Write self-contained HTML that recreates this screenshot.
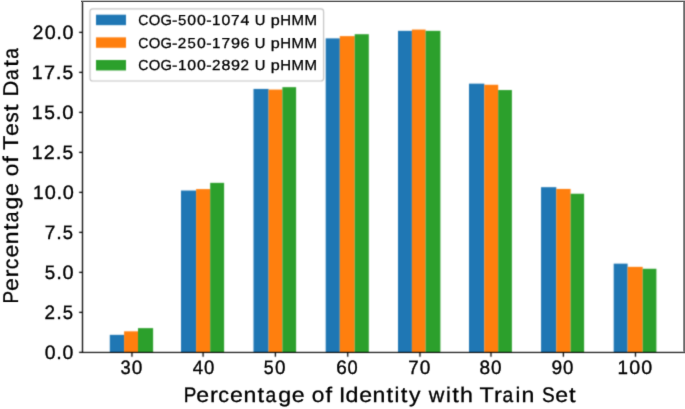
<!DOCTYPE html>
<html><head><meta charset="utf-8"><style>
html,body{margin:0;padding:0;background:#fff;}
body{width:685px;height:409px;overflow:hidden;}
svg{display:block;}
text{font-family:"Liberation Sans",sans-serif;fill:#000;text-rendering:geometricPrecision;stroke:#000;}
</style></head><body>
<svg width="685" height="409" viewBox="0 0 685 409">
<defs><filter id="b" x="0" y="0" width="685" height="409" filterUnits="userSpaceOnUse" color-interpolation-filters="sRGB"><feConvolveMatrix order="3" kernelMatrix="0.0324 0.1152 0.0324 0.1152 0.4096 0.1152 0.0324 0.1152 0.0324" edgeMode="duplicate" preserveAlpha="true"/></filter><filter id="bt" x="0" y="0" width="685" height="409" filterUnits="userSpaceOnUse" color-interpolation-filters="sRGB"><feConvolveMatrix order="3" kernelMatrix="0.0100 0.0800 0.0100 0.0800 0.6400 0.0800 0.0100 0.0800 0.0100" edgeMode="none" preserveAlpha="false"/></filter></defs>
<g filter="url(#b)">
<rect width="685" height="409" fill="#fff"/>
<rect x="109.80" y="334.85" width="14.30" height="17.60" fill="#1f77b4"/>
<rect x="124.10" y="331.33" width="13.90" height="21.12" fill="#ff7f0e"/>
<rect x="138.00" y="328.13" width="15.10" height="24.32" fill="#2ca02c"/>
<rect x="181.00" y="190.53" width="15.10" height="161.92" fill="#1f77b4"/>
<rect x="196.10" y="189.09" width="14.10" height="163.36" fill="#ff7f0e"/>
<rect x="210.20" y="182.85" width="13.90" height="169.60" fill="#2ca02c"/>
<rect x="253.50" y="88.93" width="15.10" height="263.52" fill="#1f77b4"/>
<rect x="268.60" y="89.57" width="13.80" height="262.88" fill="#ff7f0e"/>
<rect x="282.40" y="87.17" width="13.70" height="265.28" fill="#2ca02c"/>
<rect x="325.70" y="38.37" width="14.10" height="314.08" fill="#1f77b4"/>
<rect x="339.80" y="36.13" width="14.90" height="316.32" fill="#ff7f0e"/>
<rect x="354.70" y="34.21" width="14.10" height="318.24" fill="#2ca02c"/>
<rect x="398.00" y="30.85" width="13.90" height="321.60" fill="#1f77b4"/>
<rect x="411.90" y="29.57" width="13.70" height="322.88" fill="#ff7f0e"/>
<rect x="425.60" y="30.85" width="14.80" height="321.60" fill="#2ca02c"/>
<rect x="469.00" y="83.65" width="15.30" height="268.80" fill="#1f77b4"/>
<rect x="484.30" y="84.77" width="13.90" height="267.68" fill="#ff7f0e"/>
<rect x="498.20" y="90.05" width="13.70" height="262.40" fill="#2ca02c"/>
<rect x="541.05" y="187.17" width="15.25" height="165.28" fill="#1f77b4"/>
<rect x="556.30" y="188.93" width="14.30" height="163.52" fill="#ff7f0e"/>
<rect x="570.60" y="193.73" width="13.50" height="158.72" fill="#2ca02c"/>
<rect x="613.70" y="263.65" width="13.90" height="88.80" fill="#1f77b4"/>
<rect x="627.60" y="266.85" width="15.10" height="85.60" fill="#ff7f0e"/>
<rect x="642.70" y="268.77" width="13.70" height="83.68" fill="#2ca02c"/>
<path d="M82.50 0.00V352.45" stroke="#000" stroke-width="1.25" fill="none"/>
<rect x="81.88" y="352" width="603.12" height="1" fill="#000"/>
<rect x="81.88" y="351" width="603.12" height="1" fill="#000" fill-opacity="0.11"/>
<path d="M79.10 352.45H82.50M79.10 312.45H82.50M79.10 272.45H82.50M79.10 232.45H82.50M79.10 192.45H82.50M79.10 152.45H82.50M79.10 112.45H82.50M79.10 72.45H82.50M79.10 32.45H82.50M131.95 352.45V356.85M203.10 352.45V356.85M275.40 352.45V356.85M347.72 352.45V356.85M419.97 352.45V356.85M490.99 352.45V356.85M563.40 352.45V356.85M635.48 352.45V356.85" stroke="#000" stroke-width="1.25" fill="none"/>
<rect x="90.0" y="8.85" width="233.60" height="72.15" rx="2.8" fill="#fff" fill-opacity="0.8" stroke="#c4c4c4" stroke-width="1.2"/>
<rect x="96.0" y="14.70" width="30.0" height="10.45" fill="#1f77b4"/>
<rect x="96.0" y="37.35" width="30.0" height="10.45" fill="#ff7f0e"/>
<rect x="96.0" y="60.00" width="30.0" height="10.45" fill="#2ca02c"/>
</g>
<g filter="url(#bt)">
<text y="359.00" font-size="19.40" stroke-width="0.35"><tspan x="44.79" textLength="10.84" lengthAdjust="spacingAndGlyphs">0</tspan><tspan x="56.24" textLength="5.56" lengthAdjust="spacingAndGlyphs">.</tspan><tspan x="62.42" textLength="10.84" lengthAdjust="spacingAndGlyphs">0</tspan></text>
<text y="319.00" font-size="19.40" stroke-width="0.35"><tspan x="44.60" textLength="10.51" lengthAdjust="spacingAndGlyphs">2</tspan><tspan x="56.18" textLength="5.59" lengthAdjust="spacingAndGlyphs">.</tspan><tspan x="62.63" textLength="10.29" lengthAdjust="spacingAndGlyphs">5</tspan></text>
<text y="279.40" font-size="19.40" stroke-width="0.35"><tspan x="44.80" textLength="10.44" lengthAdjust="spacingAndGlyphs">5</tspan><tspan x="56.25" textLength="5.67" lengthAdjust="spacingAndGlyphs">.</tspan><tspan x="62.56" textLength="11.06" lengthAdjust="spacingAndGlyphs">0</tspan></text>
<text y="239.00" font-size="19.40" stroke-width="0.35"><tspan x="44.87" textLength="10.61" lengthAdjust="spacingAndGlyphs">7</tspan><tspan x="56.26" textLength="5.56" lengthAdjust="spacingAndGlyphs">.</tspan><tspan x="62.68" textLength="10.24" lengthAdjust="spacingAndGlyphs">5</tspan></text>
<text y="199.40" font-size="19.40" stroke-width="0.35"><tspan x="32.90" textLength="10.60" lengthAdjust="spacingAndGlyphs">1</tspan><tspan x="44.78" textLength="11.09" lengthAdjust="spacingAndGlyphs">0</tspan><tspan x="56.51" textLength="5.69" lengthAdjust="spacingAndGlyphs">.</tspan><tspan x="62.83" textLength="11.09" lengthAdjust="spacingAndGlyphs">0</tspan></text>
<text y="159.00" font-size="19.40" stroke-width="0.35"><tspan x="31.77" textLength="10.83" lengthAdjust="spacingAndGlyphs">1</tspan><tspan x="43.86" textLength="10.93" lengthAdjust="spacingAndGlyphs">2</tspan><tspan x="55.89" textLength="5.81" lengthAdjust="spacingAndGlyphs">.</tspan><tspan x="62.61" textLength="10.70" lengthAdjust="spacingAndGlyphs">5</tspan></text>
<text y="119.00" font-size="19.40" stroke-width="0.35"><tspan x="31.77" textLength="10.81" lengthAdjust="spacingAndGlyphs">1</tspan><tspan x="44.14" textLength="10.69" lengthAdjust="spacingAndGlyphs">5</tspan><tspan x="55.86" textLength="5.81" lengthAdjust="spacingAndGlyphs">.</tspan><tspan x="62.32" textLength="11.32" lengthAdjust="spacingAndGlyphs">0</tspan></text>
<text y="79.00" font-size="19.40" stroke-width="0.35"><tspan x="31.77" textLength="10.83" lengthAdjust="spacingAndGlyphs">1</tspan><tspan x="43.99" textLength="11.09" lengthAdjust="spacingAndGlyphs">7</tspan><tspan x="55.89" textLength="5.81" lengthAdjust="spacingAndGlyphs">.</tspan><tspan x="62.61" textLength="10.70" lengthAdjust="spacingAndGlyphs">5</tspan></text>
<text y="39.00" font-size="19.40" stroke-width="0.35"><tspan x="32.69" textLength="10.61" lengthAdjust="spacingAndGlyphs">2</tspan><tspan x="44.69" textLength="11.01" lengthAdjust="spacingAndGlyphs">0</tspan><tspan x="56.33" textLength="5.65" lengthAdjust="spacingAndGlyphs">.</tspan><tspan x="62.61" textLength="11.01" lengthAdjust="spacingAndGlyphs">0</tspan></text>
<text y="374.00" font-size="19.40" stroke-width="0.35"><tspan x="120.55" textLength="10.17" lengthAdjust="spacingAndGlyphs">3</tspan><tspan x="131.81" textLength="10.58" lengthAdjust="spacingAndGlyphs">0</tspan></text>
<text y="374.00" font-size="19.40" stroke-width="0.35"><tspan x="192.82" textLength="10.34" lengthAdjust="spacingAndGlyphs">4</tspan><tspan x="204.04" textLength="10.33" lengthAdjust="spacingAndGlyphs">0</tspan></text>
<text y="374.00" font-size="19.40" stroke-width="0.35"><tspan x="263.84" textLength="9.90" lengthAdjust="spacingAndGlyphs">5</tspan><tspan x="275.00" textLength="10.49" lengthAdjust="spacingAndGlyphs">0</tspan></text>
<text y="374.00" font-size="19.40" stroke-width="0.35"><tspan x="336.19" textLength="10.52" lengthAdjust="spacingAndGlyphs">6</tspan><tspan x="347.40" textLength="10.16" lengthAdjust="spacingAndGlyphs">0</tspan></text>
<text y="374.00" font-size="19.40" stroke-width="0.35"><tspan x="408.29" textLength="10.41" lengthAdjust="spacingAndGlyphs">7</tspan><tspan x="419.76" textLength="10.64" lengthAdjust="spacingAndGlyphs">0</tspan></text>
<text y="374.00" font-size="19.40" stroke-width="0.35"><tspan x="479.42" textLength="10.62" lengthAdjust="spacingAndGlyphs">8</tspan><tspan x="490.88" textLength="10.51" lengthAdjust="spacingAndGlyphs">0</tspan></text>
<text y="374.00" font-size="19.40" stroke-width="0.35"><tspan x="551.55" textLength="10.70" lengthAdjust="spacingAndGlyphs">9</tspan><tspan x="563.02" textLength="10.36" lengthAdjust="spacingAndGlyphs">0</tspan></text>
<text y="374.00" font-size="19.40" stroke-width="0.35"><tspan x="617.52" textLength="10.47" lengthAdjust="spacingAndGlyphs">1</tspan><tspan x="629.26" textLength="10.96" lengthAdjust="spacingAndGlyphs">0</tspan><tspan x="641.16" textLength="10.96" lengthAdjust="spacingAndGlyphs">0</tspan></text>
<text y="401.60" font-size="21.20" stroke-width="0.3"><tspan x="183.75" textLength="12.62" lengthAdjust="spacingAndGlyphs">P</tspan><tspan x="196.30" textLength="12.86" lengthAdjust="spacingAndGlyphs">e</tspan><tspan x="210.10" textLength="7.91" lengthAdjust="spacingAndGlyphs">r</tspan><tspan x="218.34" textLength="10.74" lengthAdjust="spacingAndGlyphs">c</tspan><tspan x="230.03" textLength="12.86" lengthAdjust="spacingAndGlyphs">e</tspan><tspan x="243.41" textLength="12.83" lengthAdjust="spacingAndGlyphs">n</tspan><tspan x="257.40" textLength="6.60" lengthAdjust="spacingAndGlyphs">t</tspan><tspan x="265.42" textLength="10.70" lengthAdjust="spacingAndGlyphs">a</tspan><tspan x="278.27" textLength="12.94" lengthAdjust="spacingAndGlyphs">g</tspan><tspan x="291.85" textLength="12.86" lengthAdjust="spacingAndGlyphs">e</tspan> <tspan x="311.85" textLength="12.65" lengthAdjust="spacingAndGlyphs">o</tspan><tspan x="325.45" textLength="6.60" lengthAdjust="spacingAndGlyphs">f</tspan> <tspan x="339.06" textLength="6.29" lengthAdjust="spacingAndGlyphs">I</tspan><tspan x="345.57" textLength="12.94" lengthAdjust="spacingAndGlyphs">d</tspan><tspan x="359.15" textLength="12.86" lengthAdjust="spacingAndGlyphs">e</tspan><tspan x="372.52" textLength="12.83" lengthAdjust="spacingAndGlyphs">n</tspan><tspan x="386.51" textLength="6.60" lengthAdjust="spacingAndGlyphs">t</tspan><tspan x="394.62" textLength="4.86" lengthAdjust="spacingAndGlyphs">i</tspan><tspan x="400.85" textLength="6.60" lengthAdjust="spacingAndGlyphs">t</tspan><tspan x="408.98" textLength="11.49" lengthAdjust="spacingAndGlyphs">y</tspan> <tspan x="428.80" textLength="15.62" lengthAdjust="spacingAndGlyphs">w</tspan><tspan x="445.93" textLength="4.86" lengthAdjust="spacingAndGlyphs">i</tspan><tspan x="452.15" textLength="6.60" lengthAdjust="spacingAndGlyphs">t</tspan><tspan x="460.04" textLength="12.92" lengthAdjust="spacingAndGlyphs">h</tspan> <tspan x="479.49" textLength="14.26" lengthAdjust="spacingAndGlyphs">T</tspan><tspan x="493.97" textLength="7.91" lengthAdjust="spacingAndGlyphs">r</tspan><tspan x="502.41" textLength="10.70" lengthAdjust="spacingAndGlyphs">a</tspan><tspan x="515.61" textLength="4.86" lengthAdjust="spacingAndGlyphs">i</tspan><tspan x="521.42" textLength="12.83" lengthAdjust="spacingAndGlyphs">n</tspan> <tspan x="541.92" textLength="12.72" lengthAdjust="spacingAndGlyphs">S</tspan><tspan x="555.15" textLength="12.86" lengthAdjust="spacingAndGlyphs">e</tspan><tspan x="568.96" textLength="6.60" lengthAdjust="spacingAndGlyphs">t</tspan></text>
<text transform="rotate(-90)" y="17.70" font-size="21.40" stroke-width="0.3"><tspan x="-303.55" textLength="12.56" lengthAdjust="spacingAndGlyphs">P</tspan><tspan x="-291.06" textLength="12.78" lengthAdjust="spacingAndGlyphs">e</tspan><tspan x="-277.42" textLength="7.98" lengthAdjust="spacingAndGlyphs">r</tspan><tspan x="-269.15" textLength="10.67" lengthAdjust="spacingAndGlyphs">c</tspan><tspan x="-257.53" textLength="12.78" lengthAdjust="spacingAndGlyphs">e</tspan><tspan x="-244.23" textLength="12.76" lengthAdjust="spacingAndGlyphs">n</tspan><tspan x="-230.37" textLength="6.66" lengthAdjust="spacingAndGlyphs">t</tspan><tspan x="-222.34" textLength="10.64" lengthAdjust="spacingAndGlyphs">a</tspan><tspan x="-209.57" textLength="12.86" lengthAdjust="spacingAndGlyphs">g</tspan><tspan x="-196.07" textLength="12.78" lengthAdjust="spacingAndGlyphs">e</tspan> <tspan x="-176.19" textLength="12.58" lengthAdjust="spacingAndGlyphs">o</tspan><tspan x="-162.72" textLength="6.66" lengthAdjust="spacingAndGlyphs">f</tspan> <tspan x="-149.73" textLength="14.17" lengthAdjust="spacingAndGlyphs">T</tspan><tspan x="-135.95" textLength="12.78" lengthAdjust="spacingAndGlyphs">e</tspan><tspan x="-122.47" textLength="10.20" lengthAdjust="spacingAndGlyphs">s</tspan><tspan x="-111.19" textLength="6.66" lengthAdjust="spacingAndGlyphs">t</tspan> <tspan x="-96.59" textLength="15.90" lengthAdjust="spacingAndGlyphs">D</tspan><tspan x="-80.02" textLength="10.64" lengthAdjust="spacingAndGlyphs">a</tspan><tspan x="-66.67" textLength="6.66" lengthAdjust="spacingAndGlyphs">t</tspan><tspan x="-58.64" textLength="10.64" lengthAdjust="spacingAndGlyphs">a</tspan></text>
<text y="25.10" font-size="14.50" stroke-width="0.3"><tspan x="138.19" textLength="10.08" lengthAdjust="spacingAndGlyphs">C</tspan><tspan x="148.69" textLength="11.56" lengthAdjust="spacingAndGlyphs">O</tspan><tspan x="160.49" textLength="11.40" lengthAdjust="spacingAndGlyphs">G</tspan><tspan x="172.05" textLength="5.40" lengthAdjust="spacingAndGlyphs">-</tspan><tspan x="178.02" textLength="8.32" lengthAdjust="spacingAndGlyphs">5</tspan><tspan x="187.39" textLength="8.81" lengthAdjust="spacingAndGlyphs">0</tspan><tspan x="196.96" textLength="8.81" lengthAdjust="spacingAndGlyphs">0</tspan><tspan x="206.16" textLength="5.40" lengthAdjust="spacingAndGlyphs">-</tspan><tspan x="212.07" textLength="8.42" lengthAdjust="spacingAndGlyphs">1</tspan><tspan x="221.51" textLength="8.81" lengthAdjust="spacingAndGlyphs">0</tspan><tspan x="231.14" textLength="8.62" lengthAdjust="spacingAndGlyphs">7</tspan><tspan x="240.63" textLength="8.81" lengthAdjust="spacingAndGlyphs">4</tspan> <tspan x="254.77" textLength="10.67" lengthAdjust="spacingAndGlyphs">U</tspan> <tspan x="270.73" textLength="9.03" lengthAdjust="spacingAndGlyphs">p</tspan><tspan x="280.17" textLength="10.80" lengthAdjust="spacingAndGlyphs">H</tspan><tspan x="291.48" textLength="12.49" lengthAdjust="spacingAndGlyphs">M</tspan><tspan x="304.44" textLength="12.49" lengthAdjust="spacingAndGlyphs">M</tspan></text>
<text y="47.75" font-size="14.50" stroke-width="0.3"><tspan x="138.19" textLength="10.08" lengthAdjust="spacingAndGlyphs">C</tspan><tspan x="148.69" textLength="11.56" lengthAdjust="spacingAndGlyphs">O</tspan><tspan x="160.49" textLength="11.40" lengthAdjust="spacingAndGlyphs">G</tspan><tspan x="172.05" textLength="5.40" lengthAdjust="spacingAndGlyphs">-</tspan><tspan x="177.79" textLength="8.49" lengthAdjust="spacingAndGlyphs">2</tspan><tspan x="187.58" textLength="8.32" lengthAdjust="spacingAndGlyphs">5</tspan><tspan x="196.96" textLength="8.81" lengthAdjust="spacingAndGlyphs">0</tspan><tspan x="206.16" textLength="5.40" lengthAdjust="spacingAndGlyphs">-</tspan><tspan x="212.07" textLength="8.42" lengthAdjust="spacingAndGlyphs">1</tspan><tspan x="221.57" textLength="8.62" lengthAdjust="spacingAndGlyphs">7</tspan><tspan x="230.91" textLength="9.03" lengthAdjust="spacingAndGlyphs">9</tspan><tspan x="240.52" textLength="9.03" lengthAdjust="spacingAndGlyphs">6</tspan> <tspan x="254.77" textLength="10.67" lengthAdjust="spacingAndGlyphs">U</tspan> <tspan x="270.73" textLength="9.03" lengthAdjust="spacingAndGlyphs">p</tspan><tspan x="280.17" textLength="10.80" lengthAdjust="spacingAndGlyphs">H</tspan><tspan x="291.48" textLength="12.49" lengthAdjust="spacingAndGlyphs">M</tspan><tspan x="304.44" textLength="12.49" lengthAdjust="spacingAndGlyphs">M</tspan></text>
<text y="70.40" font-size="14.50" stroke-width="0.3"><tspan x="138.19" textLength="10.08" lengthAdjust="spacingAndGlyphs">C</tspan><tspan x="148.69" textLength="11.56" lengthAdjust="spacingAndGlyphs">O</tspan><tspan x="160.49" textLength="11.40" lengthAdjust="spacingAndGlyphs">G</tspan><tspan x="172.05" textLength="5.40" lengthAdjust="spacingAndGlyphs">-</tspan><tspan x="177.95" textLength="8.42" lengthAdjust="spacingAndGlyphs">1</tspan><tspan x="187.39" textLength="8.81" lengthAdjust="spacingAndGlyphs">0</tspan><tspan x="196.96" textLength="8.81" lengthAdjust="spacingAndGlyphs">0</tspan><tspan x="206.16" textLength="5.40" lengthAdjust="spacingAndGlyphs">-</tspan><tspan x="211.90" textLength="8.49" lengthAdjust="spacingAndGlyphs">2</tspan><tspan x="221.46" textLength="8.91" lengthAdjust="spacingAndGlyphs">8</tspan><tspan x="230.91" textLength="9.03" lengthAdjust="spacingAndGlyphs">9</tspan><tspan x="240.59" textLength="8.49" lengthAdjust="spacingAndGlyphs">2</tspan> <tspan x="254.77" textLength="10.67" lengthAdjust="spacingAndGlyphs">U</tspan> <tspan x="270.73" textLength="9.03" lengthAdjust="spacingAndGlyphs">p</tspan><tspan x="280.17" textLength="10.80" lengthAdjust="spacingAndGlyphs">H</tspan><tspan x="291.48" textLength="12.49" lengthAdjust="spacingAndGlyphs">M</tspan><tspan x="304.44" textLength="12.49" lengthAdjust="spacingAndGlyphs">M</tspan></text>
</g>
<rect x="81" y="0" width="604" height="1" fill="rgb(189,189,189)"/>
<rect x="81" y="1" width="604" height="1" fill="rgb(96,96,96)"/>
<rect x="84" y="2" width="601" height="1" fill="rgb(240,240,240)"/>
<rect x="682" y="2" width="1" height="349" fill="rgb(250,250,250)"/>
<rect x="683" y="2" width="1" height="350" fill="rgb(142,142,142)"/>
<rect x="684" y="2" width="1" height="350" fill="rgb(108,108,108)"/>
</svg>
</body></html>
